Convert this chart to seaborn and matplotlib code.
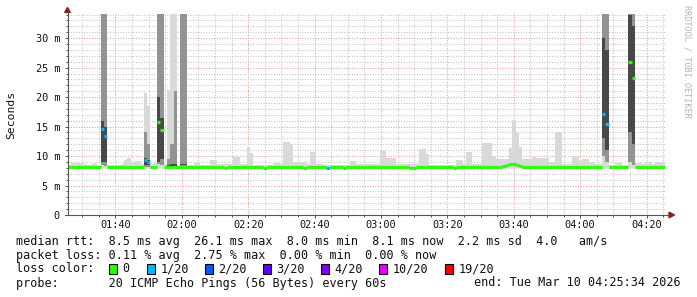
import numpy as np
import pandas as pd
import matplotlib
matplotlib.use("Agg")
import matplotlib.pyplot as plt
from matplotlib.patches import Rectangle, Polygon
from matplotlib.lines import Line2D
import seaborn as sns

# ---------------- data ----------------
start_time = "01:25:34"
x_tick_labels = ["01:40", "02:00", "02:20", "02:40", "03:00", "03:20", "03:40", "04:00", "04:20"]
y_tick_values = [0, 5, 10, 15, 20, 25, 30]
y_tick_labels = ["0", "5 m", "10 m", "15 m", "20 m", "25 m", "30 m"]

# median RTT per minute (ms), 180 minutes
median_ms = [
    8.1, 8.1, 8.2, 8.2, 8.1, 8.1, 8.1, 8.1, 8.2, 8.2,
    14.6, 13.4, 8.1, 8.1, 8.1, 8.1, 8.1, 8.2, 8.2, 8.1,
    8.1, 8.1, 8.1, 9.3, 9.0, 8.1, 8.2, 15.8, 14.5, 8.1,
    8.2, 8.2, 8.1, 8.1, 8.2, 8.2, 8.1, 8.1, 8.1, 8.1,
    8.1, 8.2, 8.2, 8.2, 8.1, 8.1, 8.1, 8.0, 8.1, 8.1,
    8.2, 8.2, 8.1, 8.1, 8.1, 8.2, 8.1, 8.1, 8.1, 8.0,
    8.1, 8.1, 8.1, 8.2, 8.2, 8.1, 8.1, 8.1, 8.2, 8.1,
    8.1, 8.0, 8.1, 8.1, 8.1, 8.1, 8.1, 8.1, 8.0, 8.1,
    8.1, 8.1, 8.1, 8.0, 8.1, 8.1, 8.2, 8.1, 8.1, 8.1,
    8.1, 8.1, 8.2, 8.1, 8.2, 8.1, 8.1, 8.2, 8.1, 8.1,
    8.1, 8.1, 8.1, 8.0, 8.0, 8.1, 8.1, 8.1, 8.1, 8.1,
    8.1, 8.1, 8.1, 8.1, 8.1, 8.1, 8.0, 8.1, 8.2, 8.1,
    8.1, 8.1, 8.1, 8.1, 8.1, 8.2, 8.2, 8.1, 8.2, 8.2,
    8.2, 8.3, 8.4, 8.6, 8.6, 8.4, 8.3, 8.2, 8.2, 8.2,
    8.2, 8.2, 8.1, 8.1, 8.1, 8.1, 8.1, 8.1, 8.1, 8.1,
    8.1, 8.1, 8.1, 8.2, 8.1, 8.1, 8.2, 8.2, 8.1, 8.1,
    8.1, 17.2, 15.5, 8.1, 8.1, 8.1, 8.1, 8.1, 8.1, 26.0,
    23.3, 8.1, 8.2, 8.2, 8.1, 8.1, 8.1, 8.1, 8.1, 8.1,
]

# slowest ping per minute (ms)
smoke_max_ms = [
    8.5, 8.8, 8.8, 8.9, 8.8, 8.6, 8.5, 8.7, 8.8, 8.5,
    40, 40, 8.4, 8.4, 8.4, 8.4, 8.7, 9.4, 9.6, 8.9,
    9.2, 9.1, 8.6, 20.7, 18.5, 8.6, 9.0, 40, 40, 8.6,
    21.2, 40, 40, 8.4, 40, 40, 8.4, 8.4, 8.8, 8.8,
    8.5, 8.5, 8.5, 9.3, 9.3, 8.6, 8.6, 8.6, 8.6, 8.6,
    9.9, 9.9, 8.7, 8.6, 11.6, 10.6, 8.5, 8.5, 8.5, 8.5,
    8.5, 8.5, 8.8, 8.8, 8.6, 12.4, 12.4, 12.0, 9.0, 9.0,
    9.0, 9.0, 8.6, 10.7, 10.7, 8.6, 8.6, 8.5, 8.5, 8.5,
    8.5, 8.5, 8.5, 8.5, 8.5, 9.2, 9.2, 8.6, 8.6, 8.6,
    8.6, 8.6, 8.6, 8.6, 10.9, 10.9, 9.7, 9.7, 9.7, 8.6,
    8.6, 8.6, 8.6, 8.6, 8.6, 8.6, 11.2, 11.2, 10.3, 8.5,
    8.5, 8.5, 8.5, 8.5, 8.5, 8.5, 8.5, 9.3, 9.3, 8.6,
    10.7, 10.7, 8.6, 8.6, 8.6, 12.2, 12.2, 12.2, 10.0, 9.5,
    9.5, 9.5, 9.5, 11.3, 16.1, 13.9, 11.5, 9.5, 9.5, 9.5,
    9.8, 9.6, 9.6, 9.6, 9.6, 9.0, 9.0, 14.0, 14.0, 8.6,
    8.6, 8.6, 9.9, 9.9, 9.2, 9.5, 9.5, 9.0, 9.0, 8.6,
    8.6, 40, 40, 8.5, 8.5, 8.8, 8.8, 8.5, 8.5, 40,
    40, 8.8, 8.8, 8.6, 9.0, 9.0, 8.6, 9.0, 9.0, 9.0,
]
ping_floor_ms = 8.0

# lost pings (out of 20) per minute, only non-zero minutes
loss_count = {10: 1, 11: 1, 23: 1, 24: 1, 78: 1, 161: 1, 162: 1}

# ping distribution of the disturbed minutes
spike_minute = [10, 11, 23, 24, 27, 28, 30, 31, 32, 34, 35, 161, 162, 169, 170]
spike_p10 = [8.5, 8.3, 8.2, 8.2, 8.6, 8.5, 8.1, 8.1, 8.1, 8.3, 8.3, 10.0, 9.0, 9.0, 8.5]
spike_p25 = [9.0, 9.0, 8.4, 8.4, 9.0, 9.5, 8.2, 8.2, 8.2, 8.5, 8.5, 13.0, 11.0, 14.0, 12.0]
spike_p75 = [16.0, 15.0, 9.6, 9.4, 20.0, 16.5, 8.5, 8.6, 8.6, 8.6, 8.6, 30.0, 28.0, 34.0, 32.0]
spike_p90 = [40, 40, 14.0, 12.0, 40, 40, 9.5, 12.0, 21.0, 40, 40, 40, 40, 40, 40]

loss_thresholds = [0, 1, 2, 3, 4, 10, 19]
loss_labels = ["0", "1/20", "2/20", "3/20", "4/20", "10/20", "19/20"]
loss_colors = ["#26ff00", "#00b8ff", "#0059ff", "#5e00ff", "#7e00ff", "#dd00ff", "#ff0000"]

stats_rtt = "median rtt:  8.5 ms avg  26.1 ms max  8.0 ms min  8.1 ms now  2.2 ms sd  4.0   am/s"
stats_loss = "packet loss: 0.11 % avg  2.75 % max  0.00 % min  0.00 % now"
probe_text = "probe:       20 ICMP Echo Pings (56 Bytes) every 60s"
end_text = "end: Tue Mar 10 04:25:34 2026"
watermark = "RRDTOOL / TOBI OETIKER"

# ---------------- style ----------------
sns.set_theme(style="white")
plt.rcParams['font.family'] = ['DejaVu Sans Mono', 'DejaVu Sans']

W, H = 697, 297
PL, PR, PT, PB = 67.5, 665.0, 14.0, 215.0
MONO = 'DejaVu Sans Mono'
AXIS_C = '#555555'
SMOKE_OUT, SMOKE_MID, SMOKE_IN = '#d9d9d9', '#939393', '#484848'


def fx(px):
    return px / W


def fy(py):
    return 1 - py / H


def to_min(s):
    parts = [float(p) for p in s.split(':')]
    while len(parts) < 3:
        parts.append(0.0)
    return parts[0] * 60 + parts[1] + parts[2] / 60


fig = plt.figure(figsize=(W / 100, H / 100), dpi=100, facecolor='white')
ax = fig.add_axes([fx(PL), fy(PB), (PR - PL) / W, (PB - PT) / H])
ax.set_facecolor('white')

n = len(median_ms)
edges = np.arange(n + 1)
t0 = to_min(start_time)

# smoke
ax.stairs(smoke_max_ms, edges, baseline=ping_floor_ms, fill=True,
          color=SMOKE_OUT, linewidth=0, zorder=1)
ax.bar(spike_minute, np.subtract(spike_p90, spike_p10), bottom=spike_p10, width=1,
       align='edge', color=SMOKE_MID, linewidth=0, zorder=2)
ax.bar(spike_minute, np.subtract(spike_p75, spike_p25), bottom=spike_p25, width=1,
       align='edge', color=SMOKE_IN, linewidth=0, zorder=3)


# median coloured by loss
def loss_label(c):
    lab = loss_labels[0]
    for th, lb in zip(loss_thresholds, loss_labels):
        if c >= th:
            lab = lb
    return lab


rows = []
for i, m in enumerate(median_ms):
    lab = loss_label(loss_count.get(i, 0))
    rows.append((i, m, i, lab))
    rows.append((i + 1, m, i, lab))
med_df = pd.DataFrame(rows, columns=['minute', 'rtt', 'seg', 'loss'])
sns.lineplot(data=med_df, x='minute', y='rtt', units='seg', estimator=None,
             hue='loss', palette=dict(zip(loss_labels, loss_colors)),
             linewidth=2.3, legend=False, sort=False, ax=ax,
             solid_capstyle='butt', zorder=5)

ax.set_xlim(0, n)
ax.set_ylim(0, 34.1)
ax.set_xlabel('')
ax.set_ylabel('')

# ticks & grid
xt = [to_min(l) - t0 for l in x_tick_labels]
ax.set_xticks(xt)
ax.set_xticklabels(x_tick_labels)
first5 = np.ceil(t0 / 5) * 5 - t0
ax.set_xticks(np.arange(first5, n, 5), minor=True)
ax.set_yticks(y_tick_values)
ax.set_yticklabels(y_tick_labels)
ax.set_yticks(np.arange(0, 35, 1), minor=True)
ax.set_axisbelow(True)
ax.grid(which='minor', color='#c2c2c2', linestyle=(0, (1, 1.6)), linewidth=0.72)
ax.grid(which='major', color='#e89a9a', linestyle=(0, (1, 1.6)), linewidth=0.72)
ax.tick_params(which='major', length=2.2, width=0.72, color=AXIS_C, labelsize=7.4,
               labelcolor='#111111')
ax.tick_params(which='minor', length=1.4, width=0.72, color=AXIS_C)
ax.tick_params(axis='y', which='both', left=True, pad=3.2)
ax.tick_params(axis='x', which='both', bottom=True, pad=1.2)
for lab in ax.get_xticklabels() + ax.get_yticklabels():
    lab.set_family(MONO)
for s in ax.spines.values():
    s.set_visible(False)

# axes lines with arrows
fig.add_artist(Line2D([fx(PL), fx(PL)], [fy(PB), fy(11)], color=AXIS_C, lw=0.8))
fig.add_artist(Line2D([fx(PL - 3), fx(669)], [fy(PB), fy(PB)], color=AXIS_C, lw=0.8))
fig.add_artist(Polygon([[fx(PL), fy(7.5)], [fx(PL - 2.8), fy(12.5)], [fx(PL + 2.8), fy(12.5)]],
                       closed=True, color='#8b1c1c', transform=fig.transFigure))
fig.add_artist(Polygon([[fx(674.5), fy(PB)], [fx(669), fy(PB - 2.8)], [fx(669), fy(PB + 2.8)]],
                       closed=True, color='#8b1c1c', transform=fig.transFigure))

# titles / labels
fig.text(fx(11), fy(114.5), 'Seconds', rotation=90, ha='center', va='center',
         fontsize=8.2, family=MONO, color='#111111')
fig.text(fx(686.5), fy(5), watermark, rotation=270, ha='center', va='top',
         fontsize=6.1, family=MONO, color='#b4b4b4')

# legend block
LEG_FS = 8.45
fig.text(fx(16), fy(241), stats_rtt, ha='left', va='center', fontsize=LEG_FS, family=MONO, color='#111111')
fig.text(fx(16), fy(255), stats_loss, ha='left', va='center', fontsize=LEG_FS, family=MONO, color='#111111')
fig.text(fx(16), fy(269), 'loss color:', ha='left', va='center', fontsize=LEG_FS, family=MONO, color='#111111')
box_x = [108.5, 146.5, 204.5, 262.5, 320.5, 378.5, 444.5]
for bx, lab, col in zip(box_x, loss_labels, loss_colors):
    fig.add_artist(Rectangle((fx(bx), fy(274)), 8 / W, 10 / H, transform=fig.transFigure,
                             facecolor=col, edgecolor='black', linewidth=0.8))
    fig.text(fx(bx + 14), fy(269), lab, ha='left', va='center', fontsize=LEG_FS,
             family=MONO, color='#111111')
fig.text(fx(16), fy(283), probe_text, ha='left', va='center', fontsize=LEG_FS, family=MONO, color='#111111')
fig.text(fx(681), fy(283), end_text, ha='right', va='center', fontsize=LEG_FS, family=MONO, color='#111111')

fig.savefig('out.png', dpi=100, facecolor='white')
